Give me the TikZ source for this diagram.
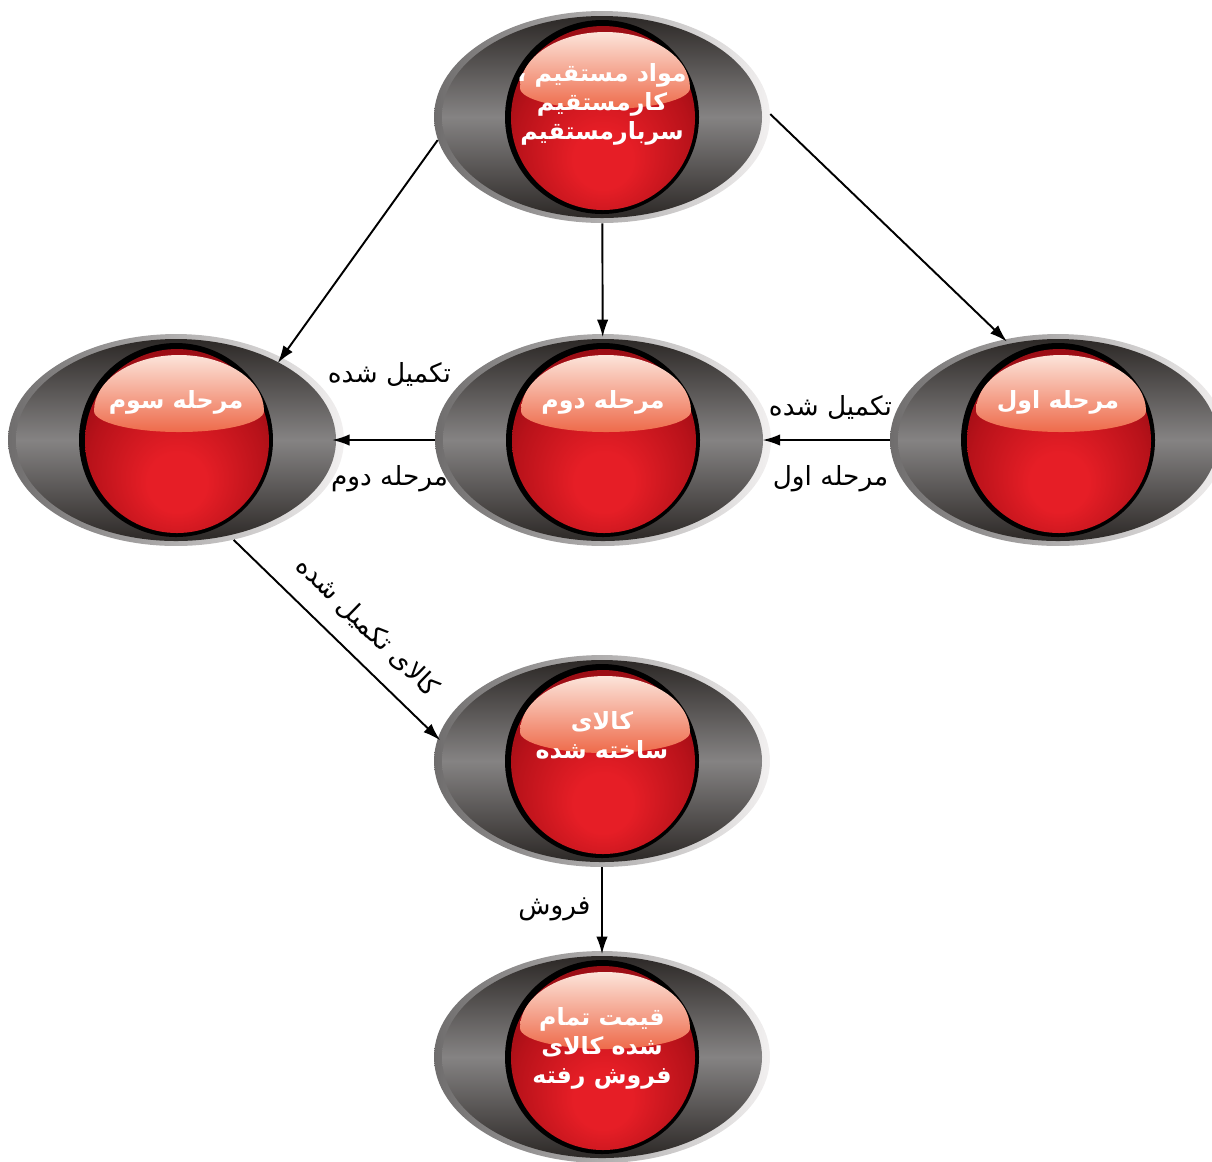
\documentclass[tikz,border=0pt]{standalone}
\usepackage{fontspec}
\newfontfamily\arabicfont[Script=Arabic]{DejaVu Sans}
\TeXXeTstate=1
\usetikzlibrary{arrows.meta, shapes.geometric}

\definecolor{rimdark}{HTML}{6F6D6D}
\definecolor{rimlight}{HTML}{F2F0F0}
\definecolor{bodydark}{HTML}{2C2826}
\definecolor{bodymid}{HTML}{858383}
\definecolor{hltop}{HTML}{FCE4DA}
\definecolor{hlbottom}{HTML}{EE6A4A}
\definecolor{ballred}{HTML}{E61E26}
\definecolor{ballmid}{HTML}{B8121A}
\definecolor{balldeep}{HTML}{860910}
\definecolor{balldark}{HTML}{5A0307}

\pgfdeclareradialshading{redball}{\pgfpoint{0bp}{-13bp}}{%
  color(0bp)=(ballred); color(8bp)=(ballred); color(24bp)=(ballmid);
  color(36bp)=(balldeep); color(46bp)=(balldark); color(60bp)=(balldark)}

\newcommand{\fatext}[1]{\beginR #1\endR}

\begin{document}
\begin{tikzpicture}[x=0.02cm, y=0.02cm,
    eye/.style={ellipse, minimum width=6.72cm, minimum height=4.24cm, inner sep=0pt,
      left color=rimdark, right color=rimlight,
      path picture={
        \begin{scope}[shift={(path picture bounding box.center)}]
          \shade[top color=bodydark, bottom color=bodydark, middle color=bodymid] (0,0) ellipse (160 and 101);
          \fill[black] (0,0) circle (97);
          \shade[shading=redball, shading angle=0] (1,-1) circle (92);
          \shade[top color=hltop, bottom color=hlbottom] (-82,29)
            arc[start angle=180, end angle=0, x radius=85, y radius=56]
            arc[start angle=0, end angle=-180, x radius=85, y radius=21] -- cycle;
        \end{scope}}},
    eyetext/.style={text=white, align=center, inner sep=0pt,
      font=\arabicfont\bfseries\fontsize{13.5}{16.5}\selectfont},
    lbl/.style={inner sep=0pt, font=\arabicfont\fontsize{15}{18}\selectfont},
    arr/.style={-{Latex[length=10pt, width=6.5pt]}, line width=1.1pt, shorten >=-2pt}]
    \useasboundingbox (0,0) rectangle (1212,-1161);

    \node[eye] (costs)   at (602,-117)  {};
    \node[eye] (stage 3) at (176,-440)  {};
    \node[eye] (stage 2) at (603,-440)  {};
    \node[eye] (stage 1) at (1058,-440) {};
    \node[eye] (goods)   at (602,-761)  {};
    \node[eye] (sold)    at (602,-1057) {};

    \node[eyetext] (costs text)   at ([yshift=0.26cm]costs)   {\fatext{مواد مستقیم ،}\\\fatext{کارمستقیم}\\\fatext{سربارمستقیم}};
    \node[eyetext] (stage 3 text) at ([yshift=0.76cm]stage 3) {\fatext{مرحله سوم}};
    \node[eyetext] (stage 2 text) at ([yshift=0.76cm]stage 2) {\fatext{مرحله دوم}};
    \node[eyetext] (stage 1 text) at ([yshift=0.76cm]stage 1) {\fatext{مرحله اول}};
    \node[eyetext] (goods text)   at ([yshift=0.52cm]goods)   {\fatext{کالای}\\\fatext{ساخته شده}};
    \node[eyetext] (sold text)    at ([yshift=0.18cm]sold)    {\fatext{قیمت تمام}\\\fatext{شده کالای}\\\fatext{فروش رفته}};

    \draw[arr, shorten >=-4pt] (costs.188) -- (stage 3.38);
    \draw[arr] (costs) -- (stage 2);
    \draw[arr] (costs.1) -- (stage 1.118);
    \draw[arr, shorten >=-5pt] (stage 1) -- node[lbl, above=11pt] {\fatext{تکمیل شده}}
                            node[lbl, below=14pt] {\fatext{مرحله اول}} (stage 2);
    \draw[arr, shorten >=-7pt] (stage 2) -- node[lbl, above=30pt] {\fatext{تکمیل شده}}
                            node[lbl, below=14pt] {\fatext{مرحله دوم}} (stage 3);
    \draw[arr] (stage 3.-60) -- node[lbl, sloped, above=10pt, pos=0.55] {\fatext{کالای تکمیل شده}} (goods.172);
    \draw[arr] (goods) -- node[lbl, left=6pt] {\fatext{فروش}} (sold);
\end{tikzpicture}
\end{document}
